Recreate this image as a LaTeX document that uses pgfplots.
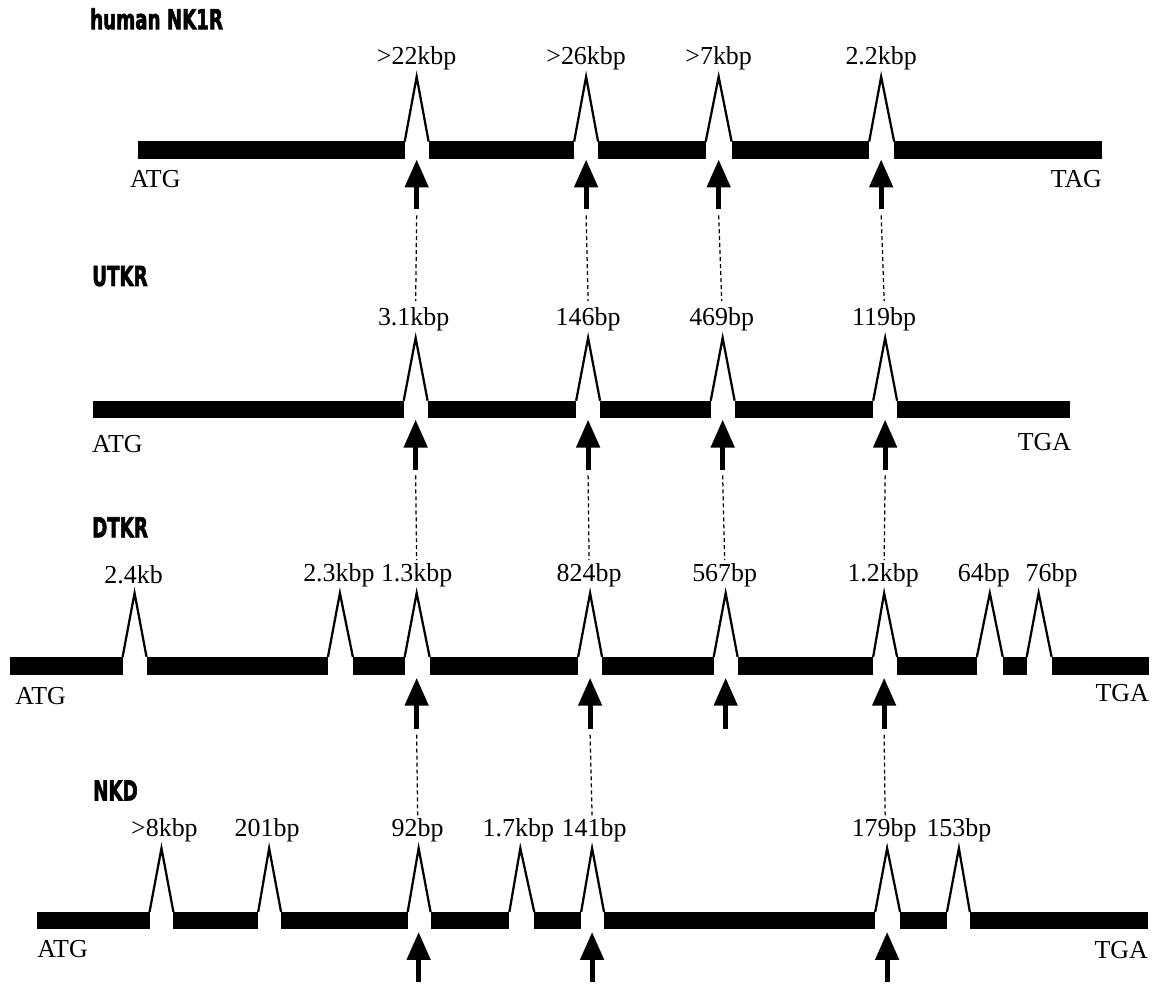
\documentclass[border=0pt]{standalone}
\usepackage{pgfplots}
\pgfplotsset{compat=1.18}
\usepackage{graphicx}
\usepackage{fontspec}
\setmainfont{Liberation Serif}
\newfontfamily\titlefont[FakeBold=2.5]{DejaVu Sans Condensed Bold}
\usetikzlibrary{arrows.meta}

% 1 unit of the axis = 1 pixel of the reference = 0.4pt
\tikzset{
  lbl/.style={font=\fontsize{10.4}{12}\selectfont, inner sep=0pt},
  ttl/.style={font=\titlefont\fontsize{11}{13}\selectfont, inner sep=0pt, anchor=west},
}
\newcommand\ttl[3]{\node[ttl] at (axis cs:#1,#2) {\scalebox{0.74}[1]{#3}};}
\newcommand\arr[3]{%
  \addplot[black, line width=2pt, -{Triangle[width=9.2pt,length=11.2pt]}]
    coordinates {(#1,#2) (#1,#3)};}

\pgfplotsset{
  exon/.style={black, line width=7pt, line cap=butt},
  intron/.style={black, line width=0.9pt, line join=miter},
  link/.style={black, line width=0.5pt, dash pattern=on 1.6pt off 1.2pt},
}

\begin{document}
\begin{tikzpicture}
\begin{axis}[
    scale only axis,
    width=463.2pt, height=394.4pt,
    xmin=0, xmax=1158, ymin=0, ymax=986,
    y dir=reverse,
    hide axis,
    clip=false,
    unbounded coords=jump,
]
\addplot[draw=none] coordinates {(0,0) (1158,986)};

% ---------------- human NK1R
\ttl{90}{19}{human NK1R}
\addplot[exon] coordinates {
  (138,150.5)(406,150.5) (nan,nan) (430,150.5)(576,150.5) (nan,nan)
  (600,150.5)(708,150.5) (nan,nan) (734,150.5)(872,150.5) (nan,nan)
  (897,150.5)(1106,150.5)};
\addplot[intron] coordinates {
  (406,142)(418,77)(430,142) (nan,nan) (576,142)(588,77)(600,142) (nan,nan)
  (708,142)(721,77)(734,142) (nan,nan) (872,142)(884,77)(897,142)};
\node[lbl] at (axis cs:418,58) {>22kbp};
\node[lbl] at (axis cs:588,58) {>26kbp};
\node[lbl] at (axis cs:721,58) {>7kbp};
\node[lbl] at (axis cs:884,58) {2.2kbp};
\node[lbl, anchor=west] at (axis cs:130,180) {ATG};
\node[lbl, anchor=east] at (axis cs:1106,180) {TAG};
\arr{418}{210}{160}
\arr{588}{210}{160}
\arr{721}{210}{160}
\arr{884}{210}{160}
\addplot[link] coordinates {
  (418,216)(417,302) (nan,nan) (588,216)(590,302) (nan,nan)
  (721,216)(724,302) (nan,nan) (884,216)(887,302)};

% ---------------- UTKR
\ttl{92}{277}{UTKR}
\addplot[exon] coordinates {
  (93,411)(405,411) (nan,nan) (429,411)(578,411) (nan,nan)
  (602,411)(713,411) (nan,nan) (737,411)(876,411) (nan,nan)
  (900,411)(1073,411)};
\addplot[intron] coordinates {
  (405,402)(417,339)(429,402) (nan,nan) (578,402)(590,339)(602,402) (nan,nan)
  (713,402)(725,339)(737,402) (nan,nan) (876,402)(888,339)(900,402)};
\node[lbl] at (axis cs:415,320) {3.1kbp};
\node[lbl] at (axis cs:590,320) {146bp};
\node[lbl] at (axis cs:724,320) {469bp};
\node[lbl] at (axis cs:887,320) {119bp};
\node[lbl, anchor=west] at (axis cs:92,445) {ATG};
\node[lbl, anchor=east] at (axis cs:1075,443) {TGA};
\arr{417}{472}{421}
\arr{590}{472}{421}
\arr{725}{472}{421}
\arr{888}{472}{421}
\addplot[link] coordinates {
  (417,477)(418,562) (nan,nan) (590,477)(591,562) (nan,nan)
  (725,477)(727,562) (nan,nan) (888,477)(887,562)};

% ---------------- DTKR
\ttl{92}{529}{DTKR}
\addplot[exon] coordinates {
  (10,668)(123,668) (nan,nan) (147,668)(329,668) (nan,nan)
  (354,668)(406,668) (nan,nan) (431,668)(580,668) (nan,nan)
  (604,668)(716,668) (nan,nan) (740,668)(876,668) (nan,nan)
  (900,668)(980,668) (nan,nan) (1006,668)(1030,668) (nan,nan)
  (1055,668)(1153,668)};
\addplot[intron] coordinates {
  (123,659)(135,595)(147,659) (nan,nan) (329,659)(341,595)(354,659) (nan,nan)
  (406,659)(418,595)(431,659) (nan,nan) (580,659)(592,595)(604,659) (nan,nan)
  (716,659)(728,595)(740,659) (nan,nan) (876,659)(887,595)(900,659) (nan,nan)
  (980,659)(993,595)(1006,659) (nan,nan) (1030,659)(1042,595)(1055,659)};
\node[lbl] at (axis cs:134,577) {2.4kb};
\node[lbl] at (axis cs:340,577) {2.3kbp};
\node[lbl] at (axis cs:418,577) {1.3kbp};
\node[lbl] at (axis cs:591,577) {824bp};
\node[lbl] at (axis cs:727,577) {567bp};
\node[lbl] at (axis cs:886,577) {1.2kbp};
\node[lbl] at (axis cs:987,577) {64bp};
\node[lbl] at (axis cs:1055,577) {76bp};
\node[lbl, anchor=west] at (axis cs:15,698) {ATG};
\node[lbl, anchor=east] at (axis cs:1153,695) {TGA};
\arr{418}{731}{680}
\arr{592}{731}{680}
\arr{728}{731}{680}
\arr{887}{731}{680}
\addplot[link] coordinates {
  (418,737)(419,818) (nan,nan) (592,737)(594,818) (nan,nan)
  (887,737)(888,818)};

% ---------------- NKD
\ttl{93}{793}{NKD}
\addplot[exon] coordinates {
  (37,923.5)(150,923.5) (nan,nan) (174,923.5)(259,923.5) (nan,nan)
  (282,923.5)(409,923.5) (nan,nan) (432,923.5)(511,923.5) (nan,nan)
  (536,923.5)(583,923.5) (nan,nan) (606,923.5)(878,923.5) (nan,nan)
  (903,923.5)(950,923.5) (nan,nan) (973,923.5)(1152,923.5)};
\addplot[intron] coordinates {
  (150,915)(162,851)(174,915) (nan,nan) (259,915)(270,851)(282,915) (nan,nan)
  (409,915)(420,851)(432,915) (nan,nan) (511,915)(522,851)(536,915) (nan,nan)
  (583,915)(594,851)(606,915) (nan,nan) (878,915)(890,851)(903,915) (nan,nan)
  (950,915)(962,851)(973,915)};
\node[lbl] at (axis cs:165,833) {>8kbp};
\node[lbl] at (axis cs:268,833) {201bp};
\node[lbl] at (axis cs:419,833) {92bp};
\node[lbl] at (axis cs:520,833) {1.7kbp};
\node[lbl] at (axis cs:596,833) {141bp};
\node[lbl] at (axis cs:887,833) {179bp};
\node[lbl] at (axis cs:962,833) {153bp};
\node[lbl, anchor=west] at (axis cs:37,952) {ATG};
\node[lbl, anchor=east] at (axis cs:1152,953) {TGA};
\arr{420}{985}{935}
\arr{594}{985}{935}
\arr{890}{985}{935}
\end{axis}
\end{tikzpicture}
\end{document}
